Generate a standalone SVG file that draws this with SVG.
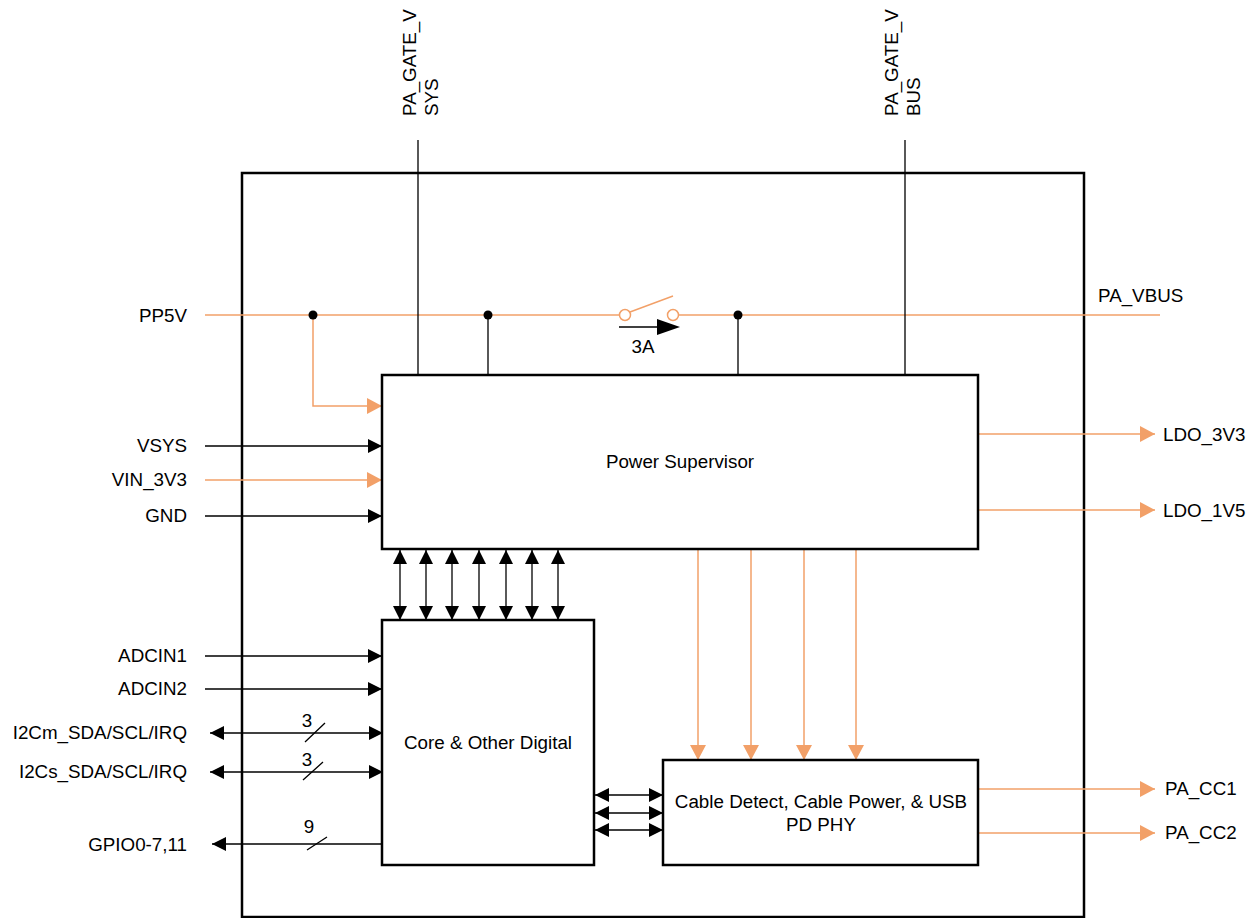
<svg xmlns="http://www.w3.org/2000/svg" width="1257" height="918" viewBox="0 0 1257 918">
<defs>
<style>
text{font-family:"Liberation Sans",Arial,sans-serif;font-size:18.8px;fill:#000}
.box{fill:none;stroke:#000;stroke-width:2.5}
.k{fill:none;stroke:#000;stroke-width:1.3}
.o{fill:none;stroke:#F2A068;stroke-width:1.5}
.ka{marker-end:url(#ak)}
.kd{marker-start:url(#ak);marker-end:url(#ak)}
.oa{marker-end:url(#ao)}
</style>
<marker id="ak" markerUnits="userSpaceOnUse" viewBox="0 0 14 14" markerWidth="14" markerHeight="14" refX="14" refY="7" orient="auto-start-reverse"><path d="M0,0 L14,7 L0,14 z" fill="#000"/></marker>
<marker id="ao" markerUnits="userSpaceOnUse" viewBox="0 0 15 16" markerWidth="15" markerHeight="16" refX="15" refY="8" orient="auto-start-reverse"><path d="M0,0 L15,8 L0,16 z" fill="#F2A068"/></marker>
</defs>
<rect width="1257" height="918" fill="#fff"/>

<g id="outer"><rect class="box" x="242" y="173" width="842" height="744"/></g>

<g id="connectors">
<path class="o" d="M205,315 H619"/>
<circle cx="625" cy="315" r="5.5" fill="#fff" stroke="#F2A068" stroke-width="1.5"/>
<path class="o" d="M630,312 L673,296"/>
<circle cx="673" cy="315" r="5.5" fill="#fff" stroke="#F2A068" stroke-width="1.5"/>
<path class="o" d="M679,315 H1160"/>
<path class="o oa" d="M313,315 V406 H382"/>
<circle cx="313" cy="315" r="4.5" fill="#000"/>
<circle cx="488" cy="315" r="4.5" fill="#000"/>
<circle cx="738" cy="315" r="4.5" fill="#000"/>
<path class="k" d="M488,315 V375 M738,315 V375 M418,140 V375 M905,140 V375"/>
<path class="k" d="M619,327 H660"/>
<path d="M657,319 L680,327 L657,335 z" fill="#000"/>
<path class="k ka" d="M205,446 H382"/>
<path class="o oa" d="M205,480 H382"/>
<path class="k ka" d="M205,516 H382"/>
<path class="k ka" d="M205,656 H382"/>
<path class="k ka" d="M205,689 H382"/>
<path class="k kd" d="M210,733 H383"/>
<path class="k kd" d="M210,772 H383"/>
<path class="k ka" d="M382,844 H212"/>
<path class="k" d="M305,742 L325,723 M303,780 L323,762 M307,850 L327,837"/>
<path class="k kd" d="M400,550 V620"/>
<path class="k kd" d="M426,550 V620"/>
<path class="k kd" d="M452,550 V620"/>
<path class="k kd" d="M479,550 V620"/>
<path class="k kd" d="M506,550 V620"/>
<path class="k kd" d="M532,550 V620"/>
<path class="k kd" d="M558,550 V620"/>
<path class="k kd" d="M595,795 H663"/>
<path class="k kd" d="M595,813 H663"/>
<path class="k kd" d="M595,830 H663"/>
<path class="o oa" d="M698,550 V760"/>
<path class="o oa" d="M751,550 V760"/>
<path class="o oa" d="M804,550 V760"/>
<path class="o oa" d="M856,550 V760"/>
<path class="o oa" d="M978,434 H1155"/>
<path class="o oa" d="M978,510 H1155"/>
<path class="o oa" d="M978,789 H1155"/>
<path class="o oa" d="M978,833 H1155"/>
</g>

<g id="power-supervisor"><rect class="box" x="382" y="375" width="596" height="174"/><text x="680" y="468" text-anchor="middle">Power Supervisor</text></g>
<g id="core"><rect class="box" x="382" y="620" width="212" height="245"/><text x="488" y="749" text-anchor="middle">Core &amp; Other Digital</text></g>
<g id="cable-detect"><rect class="box" x="663" y="760" width="315" height="105"/><text x="821" y="808" text-anchor="middle">Cable Detect, Cable Power, &amp; USB</text><text x="821" y="831" text-anchor="middle">PD PHY</text></g>

<g id="labels">
<text transform="translate(416,116) rotate(-90)">PA_GATE_V</text>
<text transform="translate(438,116) rotate(-90)">SYS</text>
<text transform="translate(898,116) rotate(-90)">PA_GATE_V</text>
<text transform="translate(920,116) rotate(-90)">BUS</text>
<text x="187" y="322" text-anchor="end">PP5V</text>
<text x="1098" y="302">PA_VBUS</text>
<text x="643" y="353" text-anchor="middle">3A</text>
<text x="187" y="452" text-anchor="end">VSYS</text>
<text x="187" y="486" text-anchor="end">VIN_3V3</text>
<text x="187" y="522" text-anchor="end">GND</text>
<text x="187" y="662" text-anchor="end">ADCIN1</text>
<text x="187" y="695" text-anchor="end">ADCIN2</text>
<text x="187" y="739" text-anchor="end">I2Cm_SDA/SCL/IRQ</text>
<text x="187" y="778" text-anchor="end">I2Cs_SDA/SCL/IRQ</text>
<text x="187" y="851" text-anchor="end">GPIO0-7,11</text>
<text x="307" y="727" text-anchor="middle">3</text>
<text x="307" y="766" text-anchor="middle">3</text>
<text x="309" y="833" text-anchor="middle">9</text>
<text x="1163" y="441">LDO_3V3</text>
<text x="1163" y="517">LDO_1V5</text>
<text x="1165" y="795">PA_CC1</text>
<text x="1165" y="839">PA_CC2</text>
</g>
</svg>
